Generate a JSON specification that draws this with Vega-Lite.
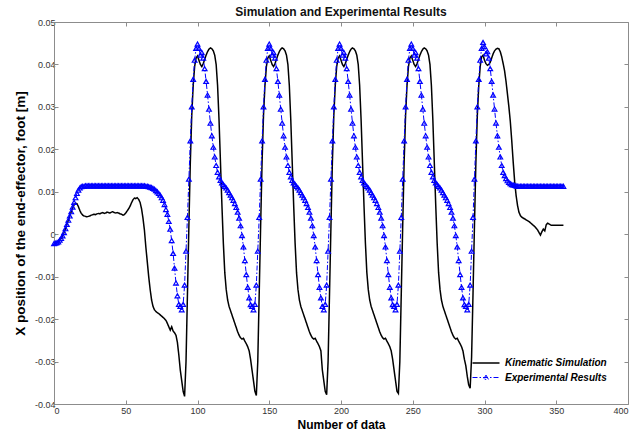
{
"$schema": "https://vega.github.io/schema/vega-lite/v6.json",
"width": 574,
"height": 382,
"autosize": "none",
"padding": {"left": 54, "top": 22, "right": 5, "bottom": 33},
"background": "white",
"title": {"text": "Simulation and Experimental Results", "font": "Liberation Sans", "fontSize": 12, "fontWeight": "bold", "color": "#111111", "offset": -1},
"config": {
  "view": {"stroke": null},
  "axis": {"grid": false, "labelFont": "Liberation Sans", "titleFont": "Liberation Sans", "labelFontSize": 9, "labelColor": "#333333", "domainColor": "#8c8c8c", "tickColor": "#8c8c8c", "domainWidth": 1, "tickWidth": 1, "titleColor": "#000000", "titleFontWeight": "bold", "titleFontSize": 12},
  "legend": {"labelFont": "Liberation Sans", "labelFontSize": 10, "labelFontStyle": "italic", "labelFontWeight": "bold", "labelColor": "#000000"}
},
"data": {"values": [
{"n":0,"k":-0.0022,"e":-0.0022},{"n":1,"k":-0.0021,"e":-0.0021},{"n":2,"k":-0.002,"e":-0.002},{"n":3,"k":-0.0018,"e":-0.0018},{"n":4,"k":-0.0014,"e":-0.0014},{"n":5,"k":-0.001,"e":-0.001},{"n":6,"k":-0.0004,"e":-0.0004},{"n":7,"k":0.0004,"e":0.0004},{"n":8,"k":0.0013,"e":0.0013},{"n":9,"k":0.0023,"e":0.0023},
{"n":10,"k":0.0033,"e":0.0033},{"n":11,"k":0.0043,"e":0.0043},{"n":12,"k":0.0053,"e":0.0053},{"n":13,"k":0.0062,"e":0.0064},{"n":14,"k":0.0069,"e":0.0075},{"n":15,"k":0.0073,"e":0.0086},{"n":16,"k":0.0072,"e":0.0096},{"n":17,"k":0.0065,"e":0.0104},{"n":18,"k":0.0056,"e":0.0109},{"n":19,"k":0.0049,"e":0.0112},
{"n":20,"k":0.0045,"e":0.0113},{"n":21,"k":0.0043,"e":0.0113},{"n":22,"k":0.0042,"e":0.0114},{"n":23,"k":0.0041,"e":0.0114},{"n":24,"k":0.0042,"e":0.0114},{"n":25,"k":0.0043,"e":0.0114},{"n":26,"k":0.0045,"e":0.0114},{"n":27,"k":0.0046,"e":0.0114},{"n":28,"k":0.0047,"e":0.0114},{"n":29,"k":0.0046,"e":0.0114},
{"n":30,"k":0.0048,"e":0.0114},{"n":31,"k":0.0049,"e":0.0114},{"n":32,"k":0.0048,"e":0.0114},{"n":33,"k":0.005,"e":0.0114},{"n":34,"k":0.0051,"e":0.0114},{"n":35,"k":0.0049,"e":0.0114},{"n":36,"k":0.005,"e":0.0114},{"n":37,"k":0.0052,"e":0.0114},{"n":38,"k":0.0051,"e":0.0114},{"n":39,"k":0.005,"e":0.0114},
{"n":40,"k":0.0052,"e":0.0114},{"n":41,"k":0.0053,"e":0.0114},{"n":42,"k":0.0051,"e":0.0114},{"n":43,"k":0.005,"e":0.0114},{"n":44,"k":0.0051,"e":0.0114},{"n":45,"k":0.005,"e":0.0114},{"n":46,"k":0.0048,"e":0.0114},{"n":47,"k":0.0047,"e":0.0114},{"n":48,"k":0.0045,"e":0.0114},{"n":49,"k":0.0046,"e":0.0114},
{"n":50,"k":0.005,"e":0.0114},{"n":51,"k":0.0055,"e":0.0114},{"n":52,"k":0.006,"e":0.0114},{"n":53,"k":0.0066,"e":0.0114},{"n":54,"k":0.0074,"e":0.0114},{"n":55,"k":0.0081,"e":0.0114},{"n":56,"k":0.0085,"e":0.0114},{"n":57,"k":0.0084,"e":0.0114},{"n":58,"k":0.0086,"e":0.0114},{"n":59,"k":0.0082,"e":0.0114},
{"n":60,"k":0.0075,"e":0.0114},{"n":61,"k":0.006,"e":0.0114},{"n":62,"k":0.0038,"e":0.0114},{"n":63,"k":0.001,"e":0.0114},{"n":64,"k":-0.003,"e":0.0113},{"n":65,"k":-0.0065,"e":0.0113},{"n":66,"k":-0.01,"e":0.0112},{"n":67,"k":-0.013,"e":0.0111},{"n":68,"k":-0.0155,"e":0.011},{"n":69,"k":-0.017,"e":0.0108},
{"n":70,"k":-0.0178,"e":0.0106},{"n":71,"k":-0.0182,"e":0.0103},{"n":72,"k":-0.0185,"e":0.01},{"n":73,"k":-0.0187,"e":0.0096},{"n":74,"k":-0.019,"e":0.0092},{"n":75,"k":-0.0193,"e":0.0086},{"n":76,"k":-0.0196,"e":0.008},{"n":77,"k":-0.0199,"e":0.007},{"n":78,"k":-0.0203,"e":0.0058},{"n":79,"k":-0.021,"e":0.0047},
{"n":80,"k":-0.0218,"e":0.003},{"n":81,"k":-0.0226,"e":0.0012},{"n":82,"k":-0.0218,"e":-0.0015},{"n":83,"k":-0.0228,"e":-0.0045},{"n":84,"k":-0.0232,"e":-0.008},{"n":85,"k":-0.0238,"e":-0.0115},{"n":86,"k":-0.0255,"e":-0.0145},{"n":87,"k":-0.0285,"e":-0.0165},
{"n":88,"k":-0.032,"e":-0.017},{"n":89,"k":-0.0345,"e":-0.0178},{"n":90,"k":-0.037,"e":-0.0165},{"n":91,"k":-0.0382,"e":-0.012},{"n":92,"k":-0.03,"e":-0.004},{"n":93,"k":-0.014,"e":0.004},{"n":94,"k":0.002,"e":0.013},{"n":95,"k":0.017,"e":0.022},{"n":96,"k":0.028,"e":0.03},{"n":97,"k":0.035,"e":0.0365},{"n":98,"k":0.0395,"e":0.041},{"n":99,"k":0.0415,"e":0.0438},
{"n":100,"k":0.042,"e":0.0448},{"n":101,"k":0.041,"e":0.0438},{"n":102,"k":0.04,"e":0.0422},{"n":103,"k":0.0395,"e":0.0428},{"n":104,"k":0.0402,"e":0.0415},{"n":105,"k":0.0412,"e":0.039},{"n":106,"k":0.0422,"e":0.036},{"n":107,"k":0.043,"e":0.0328},{"n":108,"k":0.0436,"e":0.0295},{"n":109,"k":0.0439,"e":0.0262},
{"n":110,"k":0.0437,"e":0.0232},{"n":111,"k":0.0432,"e":0.0205},{"n":112,"k":0.0422,"e":0.0182},{"n":113,"k":0.04,"e":0.0162},{"n":114,"k":0.035,"e":0.0146},{"n":115,"k":0.027,"e":0.0135},{"n":116,"k":0.017,"e":0.0127},{"n":117,"k":0.007,"e":0.0121},{"n":118,"k":-0.002,"e":0.0117},{"n":119,"k":-0.009,"e":0.0113},
{"n":120,"k":-0.013,"e":0.0109},{"n":121,"k":-0.0155,"e":0.0104},{"n":122,"k":-0.017,"e":0.0098},{"n":123,"k":-0.018,"e":0.0092},{"n":124,"k":-0.019,"e":0.0086},{"n":125,"k":-0.02,"e":0.008},{"n":126,"k":-0.021,"e":0.0072},{"n":127,"k":-0.022,"e":0.0063},{"n":128,"k":-0.023,"e":0.0052},{"n":129,"k":-0.0238,"e":0.0038},
{"n":130,"k":-0.0244,"e":0.002},{"n":131,"k":-0.0247,"e":-0.0003},{"n":132,"k":-0.0245,"e":-0.003},{"n":133,"k":-0.0252,"e":-0.0062},{"n":134,"k":-0.0258,"e":-0.0095},{"n":135,"k":-0.0265,"e":-0.0125},{"n":136,"k":-0.0275,"e":-0.015},{"n":137,"k":-0.0295,"e":-0.0166},
{"n":138,"k":-0.032,"e":-0.017},{"n":139,"k":-0.0345,"e":-0.0178},{"n":140,"k":-0.037,"e":-0.0165},{"n":141,"k":-0.038,"e":-0.012},{"n":142,"k":-0.03,"e":-0.004},{"n":143,"k":-0.014,"e":0.004},{"n":144,"k":0.002,"e":0.013},{"n":145,"k":0.017,"e":0.022},{"n":146,"k":0.028,"e":0.03},{"n":147,"k":0.035,"e":0.0365},{"n":148,"k":0.0395,"e":0.041},{"n":149,"k":0.0415,"e":0.0438},
{"n":150,"k":0.042,"e":0.0448},{"n":151,"k":0.041,"e":0.0438},{"n":152,"k":0.04,"e":0.0422},{"n":153,"k":0.0395,"e":0.0428},{"n":154,"k":0.0402,"e":0.0415},{"n":155,"k":0.0412,"e":0.039},{"n":156,"k":0.0422,"e":0.036},{"n":157,"k":0.043,"e":0.0328},{"n":158,"k":0.0436,"e":0.0295},{"n":159,"k":0.0439,"e":0.0262},
{"n":160,"k":0.0437,"e":0.0232},{"n":161,"k":0.0432,"e":0.0205},{"n":162,"k":0.0422,"e":0.0182},{"n":163,"k":0.04,"e":0.0162},{"n":164,"k":0.035,"e":0.0146},{"n":165,"k":0.027,"e":0.0135},{"n":166,"k":0.017,"e":0.0127},{"n":167,"k":0.007,"e":0.0121},{"n":168,"k":-0.002,"e":0.0117},{"n":169,"k":-0.009,"e":0.0113},
{"n":170,"k":-0.013,"e":0.0109},{"n":171,"k":-0.0155,"e":0.0104},{"n":172,"k":-0.017,"e":0.0098},{"n":173,"k":-0.018,"e":0.0092},{"n":174,"k":-0.019,"e":0.0086},{"n":175,"k":-0.02,"e":0.008},{"n":176,"k":-0.021,"e":0.0072},{"n":177,"k":-0.022,"e":0.0063},{"n":178,"k":-0.023,"e":0.0052},{"n":179,"k":-0.0238,"e":0.0038},
{"n":180,"k":-0.0244,"e":0.002},{"n":181,"k":-0.0247,"e":-0.0003},{"n":182,"k":-0.0245,"e":-0.003},{"n":183,"k":-0.0252,"e":-0.0062},{"n":184,"k":-0.0258,"e":-0.0095},{"n":185,"k":-0.0265,"e":-0.0125},{"n":186,"k":-0.0275,"e":-0.015},
{"n":187,"k":-0.032,"e":-0.017},{"n":188,"k":-0.0345,"e":-0.0178},{"n":189,"k":-0.037,"e":-0.0165},{"n":190,"k":-0.0378,"e":-0.012},{"n":191,"k":-0.03,"e":-0.004},{"n":192,"k":-0.014,"e":0.004},{"n":193,"k":0.002,"e":0.013},{"n":194,"k":0.017,"e":0.022},{"n":195,"k":0.028,"e":0.03},{"n":196,"k":0.035,"e":0.0365},{"n":197,"k":0.0395,"e":0.041},{"n":198,"k":0.0415,"e":0.0438},
{"n":199,"k":0.042,"e":0.0448},{"n":200,"k":0.041,"e":0.0438},{"n":201,"k":0.04,"e":0.0422},{"n":202,"k":0.0395,"e":0.0428},{"n":203,"k":0.0402,"e":0.0415},{"n":204,"k":0.0412,"e":0.039},{"n":205,"k":0.0422,"e":0.036},{"n":206,"k":0.043,"e":0.0328},{"n":207,"k":0.0436,"e":0.0295},{"n":208,"k":0.0439,"e":0.0262},
{"n":209,"k":0.0437,"e":0.0232},{"n":210,"k":0.0432,"e":0.0205},{"n":211,"k":0.0422,"e":0.0182},{"n":212,"k":0.04,"e":0.0162},{"n":213,"k":0.035,"e":0.0146},{"n":214,"k":0.027,"e":0.0135},{"n":215,"k":0.017,"e":0.0127},{"n":216,"k":0.007,"e":0.0121},{"n":217,"k":-0.002,"e":0.0117},{"n":218,"k":-0.009,"e":0.0113},
{"n":219,"k":-0.013,"e":0.0109},{"n":220,"k":-0.0155,"e":0.0104},{"n":221,"k":-0.017,"e":0.0098},{"n":222,"k":-0.018,"e":0.0092},{"n":223,"k":-0.019,"e":0.0086},{"n":224,"k":-0.02,"e":0.008},{"n":225,"k":-0.021,"e":0.0072},{"n":226,"k":-0.022,"e":0.0063},{"n":227,"k":-0.023,"e":0.0052},{"n":228,"k":-0.0238,"e":0.0038},
{"n":229,"k":-0.0244,"e":0.002},{"n":230,"k":-0.0247,"e":-0.0003},{"n":231,"k":-0.0245,"e":-0.003},{"n":232,"k":-0.0252,"e":-0.0062},{"n":233,"k":-0.0258,"e":-0.0095},{"n":234,"k":-0.0265,"e":-0.0125},{"n":235,"k":-0.0275,"e":-0.015},{"n":236,"k":-0.0295,"e":-0.0166},
{"n":237,"k":-0.032,"e":-0.017},{"n":238,"k":-0.0345,"e":-0.0178},{"n":239,"k":-0.037,"e":-0.0165},{"n":240,"k":-0.0375,"e":-0.012},{"n":241,"k":-0.03,"e":-0.004},{"n":242,"k":-0.014,"e":0.004},{"n":243,"k":0.002,"e":0.013},{"n":244,"k":0.017,"e":0.022},{"n":245,"k":0.028,"e":0.03},{"n":246,"k":0.035,"e":0.0365},{"n":247,"k":0.0395,"e":0.041},{"n":248,"k":0.0415,"e":0.0438},
{"n":249,"k":0.042,"e":0.0448},{"n":250,"k":0.041,"e":0.0438},{"n":251,"k":0.04,"e":0.0422},{"n":252,"k":0.0395,"e":0.0428},{"n":253,"k":0.0402,"e":0.0415},{"n":254,"k":0.0412,"e":0.039},{"n":255,"k":0.0422,"e":0.036},{"n":256,"k":0.043,"e":0.0328},{"n":257,"k":0.0436,"e":0.0295},{"n":258,"k":0.0439,"e":0.0262},
{"n":259,"k":0.0437,"e":0.0232},{"n":260,"k":0.0432,"e":0.0205},{"n":261,"k":0.0422,"e":0.0182},{"n":262,"k":0.04,"e":0.0162},{"n":263,"k":0.035,"e":0.0146},{"n":264,"k":0.027,"e":0.0135},{"n":265,"k":0.017,"e":0.0127},{"n":266,"k":0.007,"e":0.0121},{"n":267,"k":-0.002,"e":0.0117},{"n":268,"k":-0.009,"e":0.0113},
{"n":269,"k":-0.013,"e":0.0109},{"n":270,"k":-0.0155,"e":0.0104},{"n":271,"k":-0.017,"e":0.0098},{"n":272,"k":-0.018,"e":0.0092},{"n":273,"k":-0.019,"e":0.0086},{"n":274,"k":-0.02,"e":0.008},{"n":275,"k":-0.021,"e":0.0072},{"n":276,"k":-0.022,"e":0.0063},{"n":277,"k":-0.023,"e":0.0052},{"n":278,"k":-0.0238,"e":0.0038},
{"n":279,"k":-0.0244,"e":0.002},{"n":280,"k":-0.0247,"e":-0.0003},{"n":281,"k":-0.0245,"e":-0.003},{"n":282,"k":-0.0252,"e":-0.0062},{"n":283,"k":-0.0258,"e":-0.0095},{"n":284,"k":-0.0265,"e":-0.0125},{"n":285,"k":-0.0275,"e":-0.015},{"n":286,"k":-0.0295,"e":-0.0166},
{"n":287,"k":-0.031,"e":-0.017},{"n":288,"k":-0.0335,"e":-0.0178},{"n":289,"k":-0.0355,"e":-0.0165},{"n":290,"k":-0.0363,"e":-0.012},{"n":291,"k":-0.029,"e":-0.004},{"n":292,"k":-0.014,"e":0.004},{"n":293,"k":0.002,"e":0.013},{"n":294,"k":0.017,"e":0.022},{"n":295,"k":0.028,"e":0.03},{"n":296,"k":0.035,"e":0.0365},{"n":297,"k":0.0395,"e":0.041},{"n":298,"k":0.0418,"e":0.0438},
{"n":299,"k":0.0422,"e":0.0452},{"n":300,"k":0.041,"e":0.0442},{"n":301,"k":0.0402,"e":0.0425},{"n":302,"k":0.0398,"e":0.043},{"n":303,"k":0.04,"e":0.0415},{"n":304,"k":0.0405,"e":0.039},{"n":305,"k":0.0415,"e":0.036},{"n":306,"k":0.0425,"e":0.0328},{"n":307,"k":0.0432,"e":0.0295},{"n":308,"k":0.0436,"e":0.0262},
{"n":309,"k":0.0438,"e":0.0232},{"n":310,"k":0.0437,"e":0.0205},{"n":311,"k":0.043,"e":0.0182},{"n":312,"k":0.0418,"e":0.0162},{"n":313,"k":0.0402,"e":0.0146},{"n":314,"k":0.0385,"e":0.0138},{"n":315,"k":0.036,"e":0.0131},{"n":316,"k":0.033,"e":0.0126},{"n":317,"k":0.03,"e":0.0122},{"n":318,"k":0.0265,"e":0.0119},
{"n":319,"k":0.022,"e":0.0117},{"n":320,"k":0.017,"e":0.0116},{"n":321,"k":0.0125,"e":0.0115},{"n":322,"k":0.0092,"e":0.0114},{"n":323,"k":0.0068,"e":0.0113},{"n":324,"k":0.0052,"e":0.0113},{"n":325,"k":0.0044,"e":0.0113},{"n":326,"k":0.004,"e":0.0113},{"n":327,"k":0.0038,"e":0.0113},{"n":328,"k":0.0036,"e":0.0113},
{"n":329,"k":0.0034,"e":0.0113},{"n":330,"k":0.0032,"e":0.0113},{"n":331,"k":0.003,"e":0.0113},{"n":332,"k":0.0027,"e":0.0113},{"n":333,"k":0.0024,"e":0.0113},{"n":334,"k":0.0021,"e":0.0113},{"n":335,"k":0.0018,"e":0.0113},{"n":336,"k":0.0014,"e":0.0113},{"n":337,"k":0.001,"e":0.0113},{"n":338,"k":0.0004,"e":0.0113},
{"n":339,"k":-0.0002,"e":0.0113},{"n":340,"k":0.0006,"e":0.0113},{"n":341,"k":0.0012,"e":0.0113},{"n":342,"k":0.0008,"e":0.0113},{"n":343,"k":0.0022,"e":0.0113},{"n":344,"k":0.0026,"e":0.0113},{"n":345,"k":0.0024,"e":0.0113},{"n":346,"k":0.0022,"e":0.0113},{"n":347,"k":0.0021,"e":0.0113},{"n":348,"k":0.0021,"e":0.0113},
{"n":349,"k":0.0021,"e":0.0113},{"n":350,"k":0.0021,"e":0.0113},{"n":351,"k":0.0021,"e":0.0113},{"n":352,"k":0.0021,"e":0.0113},{"n":353,"k":0.0021,"e":0.0113},{"n":354,"k":0.0021,"e":0.0113},{"n":355,"k":0.0021,"e":0.0113}
]},
"layer": [
  {
    "transform": [{"fold": ["k", "e"], "as": ["series", "v"]}],
    "mark": {"type": "line"},
    "encoding": {
      "x": {"field": "n", "type": "quantitative", "scale": {"domain": [0, 400], "nice": false, "zero": false},
            "axis": {"orient": "bottom", "values": [0,50,100,150,200,250,300,350,400], "title": "Number of data", "tickSize": -4, "labelPadding": 6, "titlePadding": 4}},
      "y": {"field": "v", "type": "quantitative", "scale": {"domain": [-0.04, 0.05], "nice": false, "zero": false},
            "axis": {"orient": "left", "values": [-0.04,-0.03,-0.02,-0.01,0,0.01,0.02,0.03,0.04,0.05], "title": "X position of the end-effector, foot [m]", "titleFontSize": 13.5, "tickSize": -4, "labelPadding": 3, "titlePadding": 7,
                     "labelExpr": "datum.value == 0 ? '0' : replace(format(datum.value, '.2f'), '\u2212', '-')"}},
      "color": {"field": "series", "type": "nominal", "scale": {"domain": ["k", "e"], "range": ["#000000", "#0000ff"]},
                "legend": {"title": null, "orient": "bottom-right", "offset": 21, "padding": 0, "rowPadding": 3, "symbolSize": 144, "symbolStrokeWidth": 1.5, "labelOffset": 12,
                           "labelExpr": "datum.value == 'k' ? 'Kinematic Simulation' : 'Experimental Results'",
                           "encode": {"symbols": {"update": {"shape": {"signal": "datum.value == 'e' ? 'M-2.25,0H2.25M0,-0.4L0.4,0.3L-0.4,0.3Z' : 'M-2.25,0H2.25'"}}}}}},
      "strokeDash": {"field": "series", "type": "nominal", "scale": {"domain": ["k", "e"], "range": [[1, 0], [5, 2, 1.5, 2]]},
                "legend": {"title": null, "orient": "bottom-right", "offset": 21, "padding": 0, "rowPadding": 3, "symbolSize": 144, "symbolStrokeWidth": 1.5, "labelOffset": 12,
                           "labelExpr": "datum.value == 'k' ? 'Kinematic Simulation' : 'Experimental Results'",
                           "encode": {"symbols": {"update": {"shape": {"signal": "datum.value == 'e' ? 'M-2.25,0H2.25M0,-0.4L0.4,0.3L-0.4,0.3Z' : 'M-2.25,0H2.25'"}}}}}},
      "strokeWidth": {"field": "series", "type": "nominal", "scale": {"domain": ["k", "e"], "range": [1.5, 1]}, "legend": null}
    }
  },
  {
    "mark": {"type": "point", "shape": "triangle-up", "filled": false, "size": 22, "color": "#0000ff", "strokeWidth": 1.2, "opacity": 1},
    "encoding": {
      "x": {"field": "n", "type": "quantitative", "scale": {"domain": [0, 400], "nice": false, "zero": false},
            "axis": {"orient": "top", "values": [0,50,100,150,200,250,300,350,400], "labels": false, "title": null, "tickSize": -4}},
      "y": {"field": "e", "type": "quantitative", "scale": {"domain": [-0.04, 0.05], "nice": false, "zero": false},
            "axis": {"orient": "right", "values": [-0.04,-0.03,-0.02,-0.01,0,0.01,0.02,0.03,0.04,0.05], "labels": false, "title": null, "tickSize": -4}}
    }
  }
],
"resolve": {"axis": {"x": "independent", "y": "independent"}}
}
